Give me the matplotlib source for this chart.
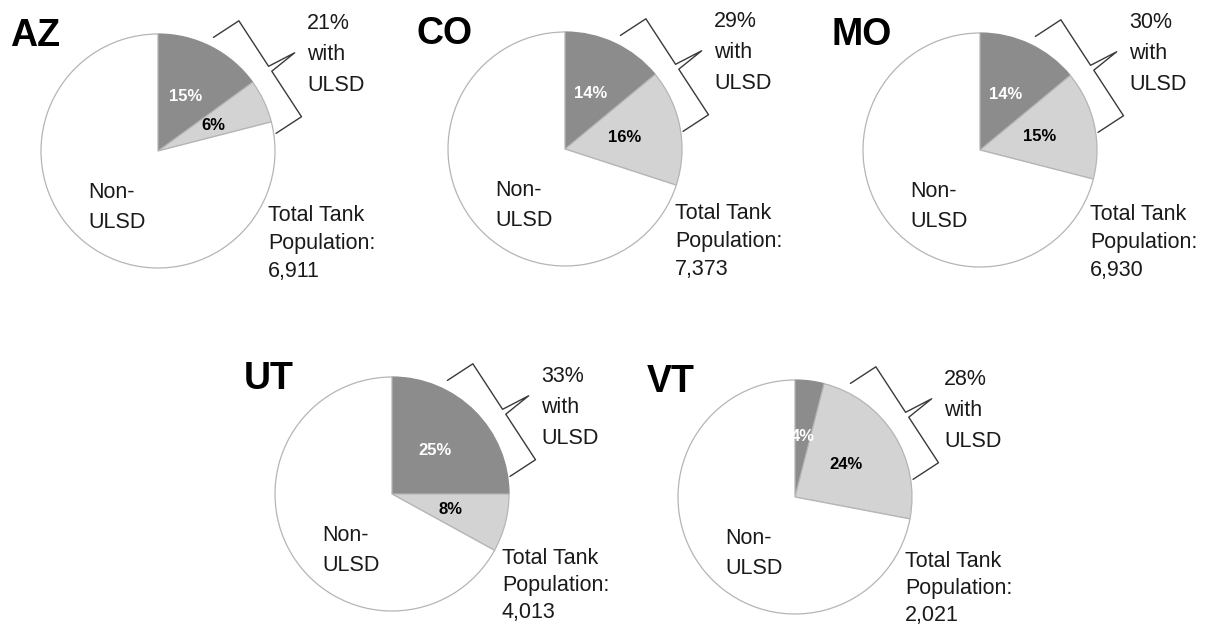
import matplotlib
matplotlib.use("Agg")
import matplotlib.pyplot as plt
import numpy as np

# ---------------- data ----------------
states = ["AZ", "CO", "MO", "UT", "VT"]
dark_pct = [15, 14, 14, 25, 4]          # dark grey slice
light_pct = [6, 16, 15, 8, 24]          # light grey slice
ulsd_total_pct = [21, 29, 30, 33, 28]   # bracket label
tank_population = ["6,911", "7,373", "6,930", "4,013", "2,021"]

# ---------------- layout (pixels, y measured from top) ----------------
W, H = 1206, 627
centers_px = [(158, 151), (565, 149), (980, 150), (392, 494), (795, 497)]
bracket_text_dy = [122, 122, 122, 112, 112]
pop_line_gap = [28, 28, 28, 27, 27]
R = 117

plt.rcParams["font.family"] = ["Liberation Sans", "DejaVu Sans"]

fig = plt.figure(figsize=(W / 100, H / 100), dpi=100)
ax = fig.add_axes([0, 0, 1, 1])

DARK = "#8c8c8c"
LIGHT = "#d3d3d3"
EDGE = "#b5b5b5"
BRACE = "#3a3a3a"
TXT = "#1a1a1a"
FS = 15.5


def draw_brace(ax, cx, cy, r):
    a1, a2 = np.deg2rad(64), np.deg2rad(8.5)
    p1 = np.array([cx + 1.08 * r * np.cos(a1), cy + 1.08 * r * np.sin(a1)])
    p2 = np.array([cx + 1.02 * r * np.cos(a2), cy + 1.02 * r * np.sin(a2)])
    u = (p2 - p1) / np.linalg.norm(p2 - p1)
    n = np.array([-u[1], u[0]])
    if np.dot(n, (p1 + p2) / 2 - np.array([cx, cy])) < 0:
        n = -n
    d1, d2 = 0.26 * r, 0.25 * r
    m = (p1 + p2) / 2
    s = 0.025 * r
    pts = np.array([p1, p1 + d1 * n, m + d1 * n - s * u, m + (d1 + d2) * n,
                    m + d1 * n + s * u, p2 + d1 * n, p2])
    ax.plot(pts[:, 0], pts[:, 1], color=BRACE, lw=1.0, solid_joinstyle="round",
            solid_capstyle="round", zorder=3)


for i, st in enumerate(states):
    cxp, cyp = centers_px[i]
    cx, cy = cxp, H - cyp
    rest = 100 - dark_pct[i] - light_pct[i]
    wedges, _ = ax.pie([dark_pct[i], light_pct[i], rest],
                       colors=[DARK, LIGHT, "white"], startangle=90,
                       counterclock=False, center=(cx, cy), radius=R,
                       wedgeprops=dict(edgecolor=EDGE, linewidth=0.9))
    wedges[0].set_edgecolor(DARK)

    # slice labels at the middle angle of each coloured wedge
    for w, val, col in [(wedges[0], dark_pct[i], "white"),
                        (wedges[1], light_pct[i], "black")]:
        ang = np.deg2rad((w.theta1 + w.theta2) / 2)
        ax.text(cx + 0.52 * R * np.cos(ang), cy + 0.52 * R * np.sin(ang),
                f"{val}%", color=col, fontsize=12, fontweight="bold",
                ha="center", va="center", zorder=4)

    draw_brace(ax, cx, cy, R)

    # state title
    ax.text(cx - 148, cy + 105, st, fontsize=27, fontweight="bold",
            color="black", ha="left", va="baseline")

    # bracket label
    for k, line in enumerate([f"{ulsd_total_pct[i]}%", "with", "ULSD"]):
        ax.text(cx + 149, cy + bracket_text_dy[i] - 31 * k, line, fontsize=FS,
                color=TXT, ha="left", va="baseline")

    # Non-ULSD label
    for k, line in enumerate(["Non-", "ULSD"]):
        ax.text(cx - 70, cy - 47 - 30 * k, line, fontsize=FS, color=TXT,
                ha="left", va="baseline")

    # total population label
    for k, line in enumerate(["Total Tank", "Population:", tank_population[i]]):
        ax.text(cx + 110, cy - 70 - pop_line_gap[i] * k, line, fontsize=FS,
                color=TXT, ha="left", va="baseline")

ax.set_xlim(0, W)
ax.set_ylim(0, H)
ax.set_aspect("equal")
ax.axis("off")

fig.savefig("out.png", dpi=100, facecolor="white")
